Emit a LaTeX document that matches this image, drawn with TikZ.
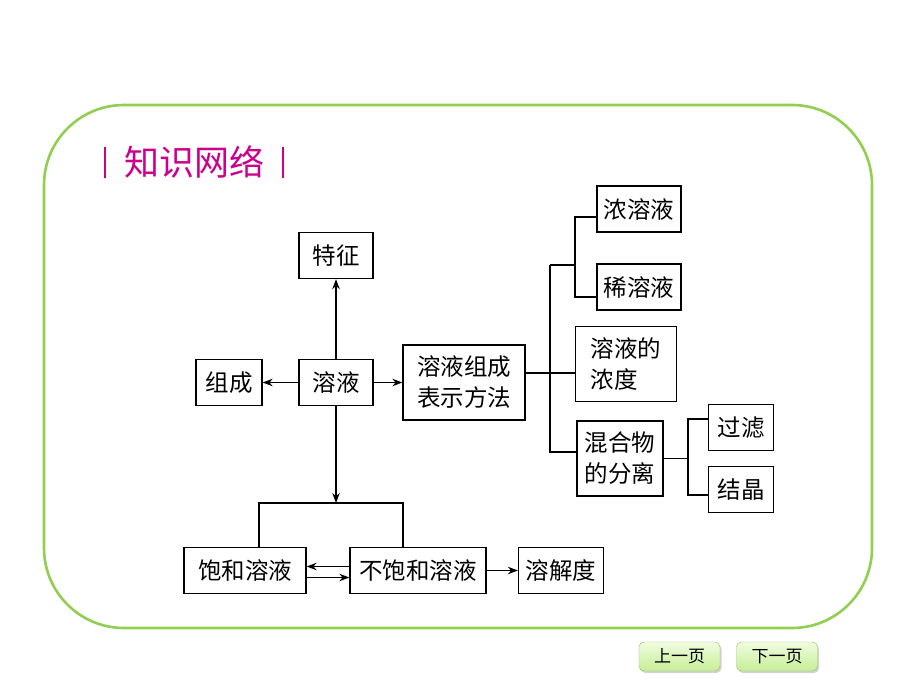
\documentclass[tikz,border=0pt]{standalone}
\usepackage{fontspec}
\setmainfont{Noto Sans CJK SC}
\usetikzlibrary{arrows.meta,shadows}
\definecolor{framegreen}{RGB}{146,206,80}
\definecolor{titlepink}{RGB}{204,0,140}
\definecolor{btntop}{RGB}{240,252,224}
\definecolor{btnbot}{RGB}{198,238,150}
\definecolor{btnedge}{RGB}{150,190,100}

\begin{document}
\begin{tikzpicture}[x=1pt,y=-1pt,
    box/.style={draw,line width=1.3pt,font=\fontsize{23.5}{31}\selectfont,inner sep=0pt,minimum height=46pt},
    tall box/.style={box,align=left,minimum height=75pt},
    link/.style={line width=1.3pt},
    arrow/.style={link,-{Stealth[length=10pt,width=7.5pt]}},
    button/.style={draw=btnedge,rounded corners=5pt,top color=btntop,bottom color=btnbot,
      drop shadow={opacity=0.35,shadow xshift=1.5pt,shadow yshift=-2pt},
      minimum width=81pt,minimum height=29pt,inner sep=0pt,font=\fontsize{17}{19}\selectfont}]

  \useasboundingbox (0,0) rectangle (920,690);

  % frame and title
  \draw[framegreen,line width=2.6pt,rounded corners=80pt] (44,105) rectangle (872,628);
  \node[text=titlepink,font=\fontsize{35}{40}\selectfont] (title) at (194,162) {知识网络};
  \draw[titlepink,line width=1.6pt] (105,147) -- (105,178);
  \draw[titlepink,line width=1.6pt] (283,147) -- (283,178);

  % upper part
  \node[box,minimum width=74pt] (tezheng) at (336,255.5) {特征};
  \node[box,minimum width=66pt] (zucheng) at (229,382.5) {组成};
  \node[box,minimum width=74pt] (rongye) at (336,382.5) {溶液};
  \node[tall box,minimum width=122pt] (fangfa) at (464,382.5) {溶液组成\\表示方法};

  \node[box,minimum width=84pt] (nong) at (639,209) {浓溶液};
  \node[box,minimum width=84pt] (xi) at (639,287) {稀溶液};
  \node[tall box,minimum width=101pt] (nongdu) at (626,364) {溶液的\\浓度};
  \node[tall box,minimum width=86pt] (fenli) at (620,458.5) {混合物\\的分离};
  \node[box,minimum width=65pt] (guolv) at (741,427.5) {过滤};
  \node[box,minimum width=65pt] (jiejing) at (741,489.5) {结晶};

  % lower part
  \node[box,minimum width=122pt] (baohe) at (245,570.5) {饱和溶液};
  \node[box,minimum width=136pt] (buhe) at (418,570.5) {不饱和溶液};
  \node[box,minimum width=85pt] (rongjie) at (561,570.5) {溶解度};

  \coordinate (t0) at (550,373);
  \coordinate (t1) at (550,265);
  \coordinate (t2) at (550,452);
  \coordinate (s1) at (575,217);
  \coordinate (s2) at (575,297);
  \coordinate (u1) at (688,419);
  \coordinate (u2) at (688,495);
  \coordinate (b1) at (259,503);
  \coordinate (b2) at (403,503);

  \draw[arrow] (rongye) -- (tezheng);
  \draw[arrow] (rongye) -- (zucheng);
  \draw[arrow] (rongye) -- (fangfa);

  \draw[link] (fangfa.east |- t0) -- (nongdu.west |- t0);
  \draw[link] (t1) -- (t2) -- (fenli.west |- t2);
  \draw[link] (t1) -| (s1) -- (nong.west |- s1);
  \draw[link] (t1) -| (s2) -- (xi.west |- s2);
  \draw[link] (fenli.east) -| (u1) -- (guolv.west |- u1);
  \draw[link] (fenli.east) -| (u2) -- (jiejing.west |- u2);

  \draw[arrow] (rongye) -- (rongye |- b1);
  \draw[link] (baohe.north -| b1) |- (b2) -- (buhe.north -| b2);
  \draw[arrow] ([yshift=4pt]buhe.west) -- ([yshift=4pt]baohe.east);
  \draw[arrow] ([yshift=-7pt]baohe.east) -- ([yshift=-7pt]buhe.west);
  \draw[arrow] (buhe) -- (rongjie);

  % page buttons
  \node[button] (prev) at (679.5,656.5) {上一页};
  \node[button] (next) at (777,656.5) {下一页};
\end{tikzpicture}
\end{document}
